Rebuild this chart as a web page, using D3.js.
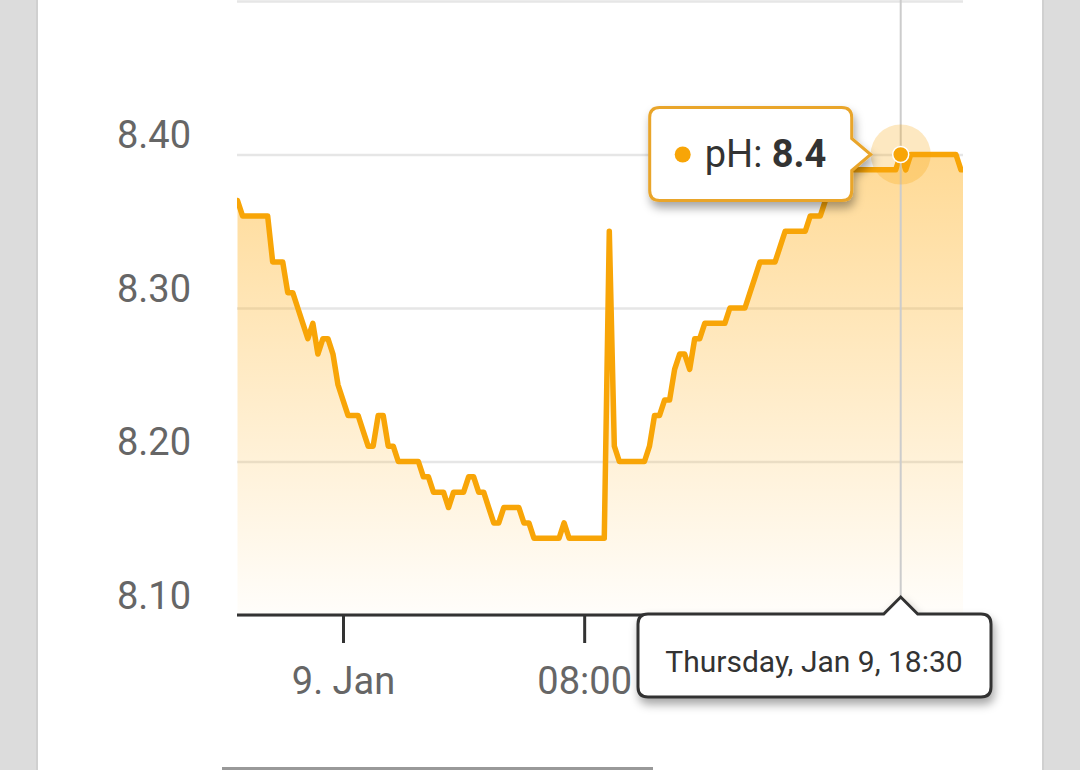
<!DOCTYPE html>
<html lang="en">
<head>
<meta charset="utf-8">
<title>pH</title>
<script src="https://d3js.org/d3.v7.min.js"></script>
<style>
  html, body { margin: 0; padding: 0; background: #dcdcdc; }
  svg { display: block; font-family: Roboto, "Noto Sans", sans-serif; }
</style>
</head>
<body>
<svg class="chart"></svg>

<script>
// readings every 10 minutes, starting Jan 8 20:30
var startTime = new Date(2020, 0, 8, 20, 30);
var stepMinutes = 10;
var phValues = [
  8.37, 8.36, 8.36, 8.36, 8.36, 8.36, 8.36, 8.33, 8.33, 8.33,
  8.31, 8.31, 8.30, 8.29, 8.28, 8.29, 8.27, 8.28, 8.28, 8.27,
  8.25, 8.24, 8.23, 8.23, 8.23, 8.22, 8.21, 8.21, 8.23, 8.23,
  8.21, 8.21, 8.20, 8.20, 8.20, 8.20, 8.20, 8.19, 8.19, 8.18,
  8.18, 8.18, 8.17, 8.18, 8.18, 8.18, 8.19, 8.19, 8.18, 8.18,
  8.17, 8.16, 8.16, 8.17, 8.17, 8.17, 8.17, 8.16, 8.16, 8.15,
  8.15, 8.15, 8.15, 8.15, 8.15, 8.16, 8.15, 8.15, 8.15, 8.15,
  8.15, 8.15, 8.15, 8.15, 8.35, 8.21, 8.20, 8.20, 8.20, 8.20,
  8.20, 8.20, 8.21, 8.23, 8.23, 8.24, 8.24, 8.26, 8.27, 8.27,
  8.26, 8.28, 8.28, 8.29, 8.29, 8.29, 8.29, 8.29, 8.30, 8.30,
  8.30, 8.30, 8.31, 8.32, 8.33, 8.33, 8.33, 8.33, 8.34, 8.35,
  8.35, 8.35, 8.35, 8.35, 8.36, 8.36, 8.36, 8.37, 8.38, 8.39,
  8.39, 8.39, 8.39, 8.39, 8.39, 8.39, 8.39, 8.39, 8.39, 8.39,
  8.39, 8.39, 8.40, 8.39, 8.40, 8.40, 8.40, 8.40, 8.40, 8.40,
  8.40, 8.40, 8.40, 8.40, 8.39, 8.39
];

var yTicks = [8.10, 8.20, 8.30, 8.40, 8.50];
var xTicks = [new Date(2020, 0, 9, 0, 0), new Date(2020, 0, 9, 8, 0)];
var xTickLabels = ["9. Jan", "08:00"];

var hoverIndex = 132;
var seriesName = "pH";
var hoverLabel = "Thursday, Jan 9, 18:30";

var data = phValues.map(function(v, i){
  return { t: new Date(startTime.getTime() + i * stepMinutes * 60000), v: v };
});

var width = 1080, height = 770;
var plot = { left: 237, right: 963, top: 1, bottom: 615 };
var orange = "#f8a507";

var svg = d3.select(".chart")
  .attr("width", width)
  .attr("height", height);

var defs = svg.append("defs");

var grad = defs.append("linearGradient")
  .attr("id", "areaFill")
  .attr("gradientUnits", "userSpaceOnUse")
  .attr("x1", 0).attr("x2", 0)
  .attr("y1", plot.top).attr("y2", plot.bottom);
grad.append("stop").attr("offset", "0%").attr("stop-color", "#ffb42a").attr("stop-opacity", 0.66);
grad.append("stop").attr("offset", "100%").attr("stop-color", "#ffb42a").attr("stop-opacity", 0.02);

defs.append("clipPath").attr("id", "plotClip")
  .append("rect")
  .attr("x", plot.left).attr("y", 0)
  .attr("width", plot.right - plot.left).attr("height", plot.bottom);

var shadow = defs.append("filter").attr("id", "shadow")
  .attr("x", "-20%").attr("y", "-30%").attr("width", "140%").attr("height", "170%");
shadow.append("feDropShadow")
  .attr("dx", 2).attr("dy", 6).attr("stdDeviation", 5)
  .attr("flood-color", "#000").attr("flood-opacity", 0.35);

// page panel
svg.append("rect").attr("x", 0).attr("y", 0).attr("width", width).attr("height", height).attr("fill", "#dcdcdc");
svg.append("rect").attr("x", 36).attr("y", 0).attr("width", 1008).attr("height", height).attr("fill", "#d0d0d0");
svg.append("rect").attr("x", 38).attr("y", 0).attr("width", 1004).attr("height", height).attr("fill", "#ffffff");

var x = d3.scaleTime()
  .domain([new Date(2020, 0, 8, 20, 29), new Date(2020, 0, 9, 20, 34)])
  .range([plot.left, plot.right]);

var y = d3.scaleLinear()
  .domain([8.10, 8.50])
  .range([plot.bottom, plot.top]);

// grid lines + y labels
var yAxis = d3.axisLeft(y)
  .tickValues(yTicks)
  .tickSize(-(plot.right - plot.left))
  .tickPadding(0)
  .tickFormat(d3.format(".2f"));

var gy = svg.append("g")
  .attr("transform", "translate(" + plot.left + ",0)")
  .call(yAxis);
gy.select(".domain").remove();
gy.selectAll(".tick line").attr("stroke", "#e6e6e6").attr("stroke-width", 2.5);
gy.selectAll(".tick text")
  .attr("x", -46)
  .attr("dy", "-0.18em")
  .attr("fill", "#666")
  .style("font-size", "38px")
  .style("font-family", "Roboto, sans-serif")
  .text(function(d){ return d === 8.5 ? "" : d3.format(".2f")(d); });

// area + line
var area = d3.area()
  .x(function(d){ return x(d.t); })
  .y0(plot.bottom)
  .y1(function(d){ return y(d.v); });

var line = d3.line()
  .x(function(d){ return x(d.t); })
  .y(function(d){ return y(d.v); });

var gPlot = svg.append("g").attr("clip-path", "url(#plotClip)");

gPlot.append("path")
  .datum(data)
  .attr("d", area)
  .attr("fill", "url(#areaFill)");

// crosshair
var hp = data[hoverIndex];
var hx = x(hp.t), hy = y(hp.v);

svg.append("line")
  .attr("x1", hx).attr("x2", hx)
  .attr("y1", 0).attr("y2", plot.bottom)
  .attr("stroke", "#cccccc")
  .attr("stroke-width", 2);

gPlot.append("path")
  .datum(data)
  .attr("d", line)
  .attr("fill", "none")
  .attr("stroke", orange)
  .attr("stroke-width", 5.5)
  .attr("stroke-linejoin", "round")
  .attr("stroke-linecap", "round");

// x axis
var xAxis = d3.axisBottom(x)
  .tickValues(xTicks)
  .tickSize(28)
  .tickPadding(24)
  .tickFormat(function(d, i){ return xTickLabels[i]; });

var gx = svg.append("g")
  .attr("transform", "translate(0," + plot.bottom + ")")
  .call(xAxis);
gx.select(".domain")
  .attr("d", "M" + plot.left + ",0H" + plot.right)
  .attr("stroke", "#333").attr("stroke-width", 3);
gx.selectAll(".tick line").attr("stroke", "#333").attr("stroke-width", 3);
gx.selectAll(".tick text")
  .attr("fill", "#666")
  .style("font-size", "38px")
  .style("font-family", "Roboto, sans-serif");

// hover halo + marker
svg.append("circle")
  .attr("cx", hx).attr("cy", hy).attr("r", 30)
  .attr("fill", orange).attr("fill-opacity", 0.25);
svg.append("circle")
  .attr("cx", hx).attr("cy", hy).attr("r", 8)
  .attr("fill", orange).attr("stroke", "#fff").attr("stroke-width", 1.5);

// tooltip outline with a pointer on one side
function boxPath(x0, y0, x1, y1, r, arrow){
  var p = "M" + (x0 + r) + "," + y0;
  if (arrow.side === "top") {
    p += "H" + (arrow.x - 17) + "L" + arrow.x + "," + arrow.y + "L" + (arrow.x + 17) + "," + y0;
  }
  p += "H" + (x1 - r) + "Q" + x1 + "," + y0 + " " + x1 + "," + (y0 + r);
  if (arrow.side === "right") {
    p += "V" + (arrow.y - 16) + "L" + arrow.x + "," + arrow.y + "L" + x1 + "," + (arrow.y + 16);
  }
  p += "V" + (y1 - r) + "Q" + x1 + "," + y1 + " " + (x1 - r) + "," + y1;
  p += "H" + (x0 + r) + "Q" + x0 + "," + y1 + " " + x0 + "," + (y1 - r);
  p += "V" + (y0 + r) + "Q" + x0 + "," + y0 + " " + (x0 + r) + "," + y0 + "Z";
  return p;
}

var tipX = hx - 30;
var tip1 = svg.append("g");
tip1.append("path")
  .attr("d", boxPath(tipX - 221, hy - 47, tipX - 19, hy + 46, 10, { side: "right", x: tipX, y: hy }))
  .attr("fill", "#fff")
  .attr("stroke", "#e9a52a")
  .attr("stroke-width", 3)
  .attr("filter", "url(#shadow)");
tip1.append("circle")
  .attr("cx", tipX - 188).attr("cy", hy).attr("r", 8)
  .attr("fill", orange);
var t1 = tip1.append("text")
  .attr("x", tipX - 166).attr("y", hy + 12)
  .attr("fill", "#333")
  .style("font-size", "38px");
t1.append("tspan").text(seriesName + ": ");
t1.append("tspan").attr("font-weight", "bold").text(d3.format(".1f")(hp.v));

// date tooltip (pointer up to the crosshair)
var tip2 = svg.append("g");
tip2.append("path")
  .attr("d", boxPath(638, 614, 991, 697, 10, { side: "top", x: hx, y: 597 }))
  .attr("fill", "#fff")
  .attr("stroke", "#333")
  .attr("stroke-width", 3)
  .attr("filter", "url(#shadow)");
tip2.append("text")
  .attr("x", 814).attr("y", 672)
  .attr("text-anchor", "middle")
  .attr("fill", "#333")
  .style("font-size", "30px")
  .text(hoverLabel);

// edge of the next chart below
svg.append("rect")
  .attr("x", 222).attr("y", 767)
  .attr("width", 431).attr("height", 3)
  .attr("fill", "#999");
</script>
</body>
</html>
